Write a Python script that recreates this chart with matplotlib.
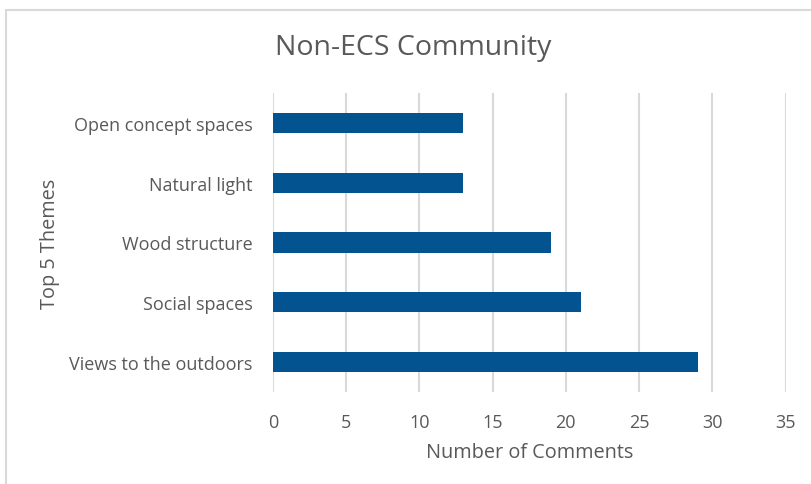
import matplotlib
matplotlib.use("Agg")
import matplotlib.pyplot as plt
from matplotlib.patches import Rectangle

themes = ["Views to the outdoors", "Social spaces", "Wood structure", "Natural light", "Open concept spaces"]
comments = [29, 21, 19, 13, 13]
xticks = [0, 5, 10, 15, 20, 25, 30, 35]

BAR = "#02538f"
TXT = "#595959"
GRID = "#d9d9d9"
plt.rcParams["font.family"] = ["Open Sans", "DejaVu Sans"]

fig = plt.figure(figsize=(8.12, 4.85), dpi=100)
# chart-area frame, runs off the right and bottom edges
fig.patches.append(Rectangle((6/812, -0.1), 1.2, 1 - 10.5/485 + 0.1, transform=fig.transFigure,
                             fill=False, edgecolor=GRID, lw=1.5))

ax = fig.add_axes([273/812, 92/485, 512.5/812, 299/485])
ax.barh(range(len(themes)), comments, height=0.34, color=BAR, zorder=3)
ax.set_xlim(0, 35)
ax.set_ylim(-0.5, len(themes) - 0.5)
ax.set_xticks(xticks)
ax.set_yticks(range(len(themes)))
ax.set_yticklabels(themes)
ax.grid(axis="x", color=GRID, lw=1.5, zorder=0)
for s in ax.spines.values():
    s.set_visible(False)
ax.tick_params(length=0, colors=TXT, labelsize=13)
ax.tick_params(axis="x", pad=15)
ax.tick_params(axis="y", pad=14.5)
ax.set_xlabel("Number of Comments", color=TXT, fontsize=14.3, labelpad=8)
ax.set_ylabel("Top 5 Themes", color=TXT, fontsize=14.3, labelpad=7)
fig.text(413/812, 1 - 48/485, "Non-ECS Community", ha="center", va="center", color=TXT, fontsize=20.5)

fig.savefig("out.png", dpi=100)
